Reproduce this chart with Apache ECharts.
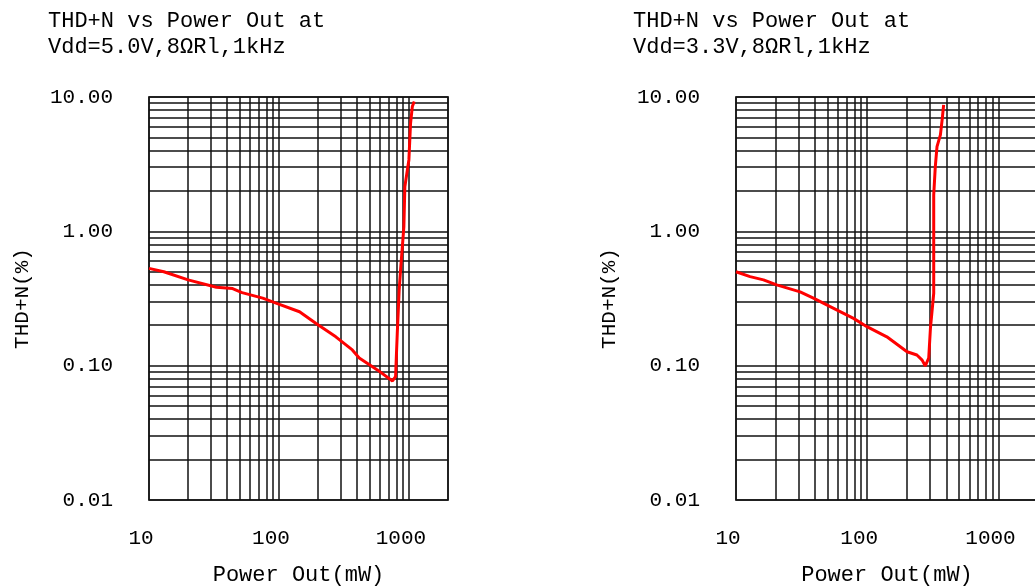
<!DOCTYPE html>
<html><head><meta charset="utf-8">
<script src="https://cdn.jsdelivr.net/npm/echarts@6/dist/echarts.min.js"></script>
<style>html,body{margin:0;padding:0;background:#fff;overflow:hidden}#c{width:1035px;height:588px}</style>
</head><body><div id="c"></div>
<script>
const titleLines = ['THD+N vs Power Out at', 'Vdd=5.0V,8ΩRl,1kHz', 'Vdd=3.3V,8ΩRl,1kHz'];
const xAxisName = 'Power Out(mW)';
const yAxisName = 'THD+N(%)';
const xTickLabels = [10, 100, 1000];
const yTickLabels = [0.01, 0.1, 1, 10];
const xMinorGrid = [20, 30, 40, 50, 60, 70, 80, 90, 200, 300, 400, 500, 600, 700, 800, 900];
const yMinorGrid = [0.02, 0.03, 0.04, 0.05, 0.06, 0.07, 0.08, 0.09,
                    0.2, 0.3, 0.4, 0.5, 0.6, 0.7, 0.8, 0.9,
                    2, 3, 4, 5, 6, 7, 8, 9];

const power5V = [10, 13, 20, 33, 44, 52, 75, 95, 144, 192, 274, 367, 415, 572, 748, 790, 800, 814, 842, 863, 915, 931, 1000, 1030, 1063, 1100];
const thd5V   = [0.53, 0.50, 0.435, 0.383, 0.375, 0.35, 0.318, 0.292, 0.252, 0.207, 0.164, 0.131, 0.114, 0.093, 0.077, 0.083, 0.114, 0.174, 0.366, 0.517, 1.08, 2.15, 3.40, 6.38, 8.49, 9.25];

const power33V = [10, 12.8, 16.2, 20.4, 30.8, 38.9, 52.2, 78.6, 99.5, 141, 201, 239, 262, 277, 294, 303, 321, 321, 330, 340, 361, 372, 382];
const thd33V   = [0.50, 0.46, 0.435, 0.399, 0.354, 0.318, 0.275, 0.225, 0.195, 0.164, 0.127, 0.120, 0.110, 0.0995, 0.114, 0.19, 0.346, 1.87, 3.03, 4.27, 5.22, 6.75, 8.74];

const FONT = '"Liberation Mono", "DejaVu Sans Mono", monospace';
const panels = [
  {title: titleLines[0] + '\n' + titleLines[1], titleLeft: 48, gridLeft: 149, gridWidth: 299, px: power5V, py: thd5V},
  {title: titleLines[0] + '\n' + titleLines[2], titleLeft: 633, gridLeft: 736, gridWidth: 302, px: power33V, py: thd33V}
];

function isTick(v, list) {
  return list.some(t => Math.abs(Math.log10(v) - Math.log10(t)) < 1e-6);
}

const option = {
  animation: false,
  backgroundColor: '#fff',
  title: panels.map(p => ({
    text: p.title, left: p.titleLeft, top: 8, padding: 0,
    textStyle: {fontFamily: FONT, fontSize: 22, fontWeight: 'normal', color: '#000', lineHeight: 26}
  })),
  grid: panels.map(p => ({
    left: p.gridLeft, top: 97, width: p.gridWidth, height: 403, containLabel: false,
    outerBoundsMode: 'none',
    show: true, borderColor: '#555', borderWidth: 2, backgroundColor: 'transparent'
  })),
  xAxis: panels.map((p, i) => ({
    type: 'log', logBase: 10, min: 10, max: 2000, gridIndex: i,
    axisLine: {show: false}, axisTick: {show: false},
    splitLine: {show: true, lineStyle: {color: '#111', width: 1.5}},
    axisLabel: {
      formatter: v => isTick(v, xTickLabels) ? String(Math.round(v)) : '',
      fontFamily: FONT, fontSize: 21, color: '#000', margin: 28, padding: [0, 16, 0, 0]
    },
    name: xAxisName, nameLocation: 'middle', nameGap: 64,
    nameTextStyle: {fontFamily: FONT, fontSize: 22, color: '#000'}
  })),
  yAxis: panels.map((p, i) => ({
    type: 'log', logBase: 10, min: 0.01, max: 10, gridIndex: i,
    axisLine: {show: false}, axisTick: {show: false},
    splitLine: {show: true, lineStyle: {color: '#111', width: 1.5}},
    axisLabel: {
      formatter: v => isTick(v, yTickLabels) ? v.toFixed(2) : '',
      fontFamily: FONT, fontSize: 21, color: '#000', margin: 36
    },
    name: yAxisName, nameLocation: 'middle', nameGap: 116, nameRotate: 90,
    nameTextStyle: {fontFamily: FONT, fontSize: 21, color: '#000'}
  })),
  series: panels.flatMap((p, i) => ([
    {
      type: 'line', xAxisIndex: i, yAxisIndex: i, data: [], silent: true, z: 1,
      markLine: {
        silent: true, symbol: ['none', 'none'], label: {show: false}, animation: false,
        lineStyle: {color: '#111', width: 1.5, type: 'solid'},
        emphasis: {disabled: true},
        data: xMinorGrid.map(v => ({xAxis: v})).concat(yMinorGrid.map(v => ({yAxis: v})))
      }
    },
    {
      type: 'line', xAxisIndex: i, yAxisIndex: i, z: 5, showSymbol: false, symbol: 'none',
      lineStyle: {color: '#ff0000', width: 3},
      data: p.px.map((x, k) => [x, p.py[k]])
    }
  ]))
};

const chart = echarts.init(document.getElementById('c'), null, {renderer: 'canvas'});
chart.setOption(option);
</script>
</body></html>
